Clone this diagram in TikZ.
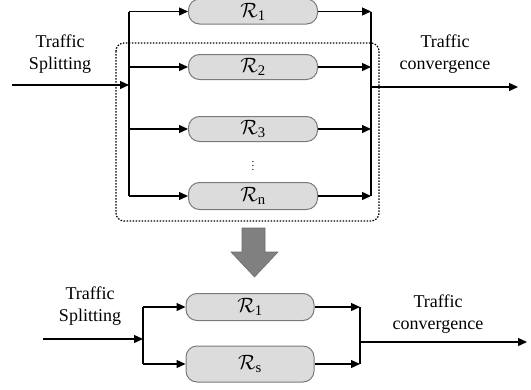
\documentclass[tikz,border=0pt]{standalone}
\usepackage{fontspec}
\setmainfont{Liberation Serif}
\usetikzlibrary{arrows.meta}

\definecolor{boxfill}{HTML}{DCDCDC}
\definecolor{boxline}{HTML}{7A7A7A}
\definecolor{bigarrow}{HTML}{808080}

\tikzset{
  route/.style={draw=boxline, fill=boxfill, line width=1pt, rounded corners=11pt,
    minimum width=129pt, minimum height=25pt, inner sep=0pt, font=\fontsize{21}{22}\selectfont},
  lbl/.style={align=center, font=\fontsize{18}{22}\selectfont}
}

\begin{document}
\begin{tikzpicture}[x=1pt, y=-1pt, line width=1.3pt, >={Triangle[length=9pt,width=8pt]}]
  \useasboundingbox (0,0) rectangle (531,389);

  % routes before merging
  \node[route] (r1) at (253,11.5) {$\mathcal{R}_{\mathrm{1}}$};
  \node[route] (r2) at (253,67) {$\mathcal{R}_{\mathrm{2}}$};
  \node[route] (r3) at (253,129) {$\mathcal{R}_{\mathrm{3}}$};
  \node[route, minimum height=27pt] (rn) at (253,196) {$\mathcal{R}_{\mathrm{n}}$};
  \node[font=\fontsize{11}{11}\selectfont, inner sep=0pt] (dots) at (253,163) {$\vdots$};

  \node[lbl] (split lbl) at (60,54) {Traffic\\Splitting};
  \node[lbl] (conv lbl) at (445,54) {Traffic\\convergence};

  \coordinate (in) at (12,85);
  \coordinate (split) at (129,85);
  \coordinate (merge) at (371,87);
  \coordinate (out) at (518,87);

  \draw[->] (in) -- (split);
  \draw (split |- r1) -- (split |- rn);
  \draw (merge |- r1) -- (merge |- rn);
  \foreach \r in {r1,r2,r3,rn} {
    \draw[->] (split |- \r.west) -- (\r.west);
    \draw[->] (\r.east) -- (merge |- \r.east);
  }
  \draw[->] (merge) -- (out);

  % group that gets merged
  \draw[dash pattern=on 1.6pt off 1.4pt, line width=1.2pt, rounded corners=8pt] (116,43) rectangle (379,221);

  % big arrow down
  \filldraw[fill=bigarrow, draw=bigarrow!85!black, line width=0.6pt]
    (242,228) -- (265,228) -- (265,252) -- (278,252) -- (254.5,277)
    -- (231,252) -- (242,252) -- cycle;

  % routes after merging
  \node[route, minimum width=128pt, minimum height=27pt] (b1) at (250,307) {$\mathcal{R}_{\mathrm{1}}$};
  \node[route, minimum width=128pt, minimum height=36pt] (bs) at (250,364) {$\mathcal{R}_{\mathrm{s}}$};

  \node[lbl] (split lbl2) at (90,306) {Traffic\\Splitting};
  \node[lbl] (conv lbl2) at (438,314) {Traffic\\convergence};

  \coordinate (in2) at (43,339);
  \coordinate (split2) at (143,339);
  \coordinate (merge2) at (360,342);
  \coordinate (out2) at (527,342);

  \draw[->] (in2) -- (split2);
  \draw (split2 |- b1) -- (split2 |- bs);
  \draw (merge2 |- b1) -- (merge2 |- bs);
  \foreach \r in {b1,bs} {
    \draw[->] (split2 |- \r.west) -- (\r.west);
    \draw[->] (\r.east) -- (merge2 |- \r.east);
  }
  \draw[->] (merge2) -- (out2);
\end{tikzpicture}
\end{document}
